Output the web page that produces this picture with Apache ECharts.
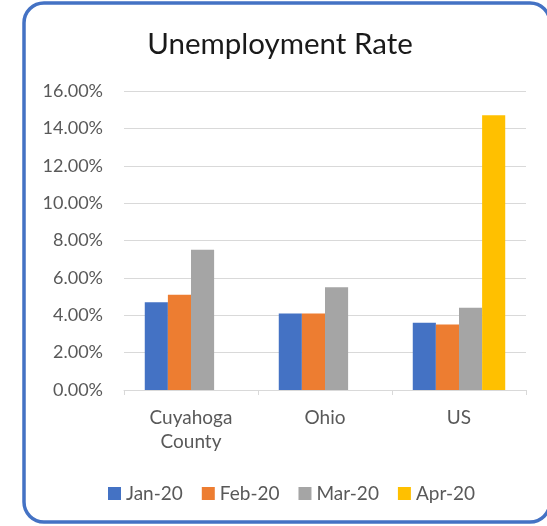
<!DOCTYPE html>
<html>
<head>
<meta charset="utf-8">
<script src="https://cdn.jsdelivr.net/npm/echarts@6/dist/echarts.min.js"></script>
<style>
html,body{margin:0;padding:0;background:#fff;}
#chart{width:547px;height:526px;}
</style>
</head>
<body>
<div id="chart"></div>
<script>
const categories = ['Cuyahoga\nCounty', 'Ohio', 'US'];
const seriesNames = ['Jan-20', 'Feb-20', 'Mar-20', 'Apr-20'];
const jan20 = [4.7, 4.1, 3.6];
const feb20 = [5.1, 4.1, 3.5];
const mar20 = [7.5, 5.5, 4.4];
const apr20 = [null, null, 14.7];
const seriesValues = [jan20, feb20, mar20, apr20];
const colors = ['#4472C4', '#ED7D31', '#A5A5A5', '#FFC000'];

const FONT = 'Lato';
const chart = echarts.init(document.getElementById('chart'), null, {renderer: 'canvas'});
chart.setOption({
  animation: false,
  color: colors,
  title: {
    text: 'Unemployment Rate',
    left: 275, top: 24, textAlign: 'center',
    textStyle: {fontFamily: FONT, fontSize: 29.5, fontWeight: 'normal', color: '#1a1a1a'}
  },
  graphic: [{
    type: 'rect',
    shape: {x: 24, y: 3, width: 526, height: 519, r: 20},
    style: {fill: 'none', stroke: '#4472C4', lineWidth: 3.5},
    z: 100
  }],
  legend: {
    data: seriesNames,
    top: 479, left: 103,
    icon: 'rect', itemWidth: 13, itemHeight: 13, itemGap: 19,
    textStyle: {fontFamily: FONT, fontSize: 19, color: '#595959', padding: [0, 0, 0, 0]}
  },
  grid: {left: 124, right: 21, top: 91, bottom: 136, containLabel: false},
  xAxis: {
    type: 'category',
    data: categories,
    axisLine: {lineStyle: {color: '#D9D9D9', width: 1}},
    axisTick: {show: true, length: 5, lineStyle: {color: '#D9D9D9'}},
    axisLabel: {fontFamily: FONT, fontSize: 19, color: '#595959', margin: 16, lineHeight: 24}
  },
  yAxis: {
    type: 'value',
    min: 0, max: 16, interval: 2,
    axisLine: {show: false},
    axisTick: {show: false},
    splitLine: {lineStyle: {color: '#D9D9D9', width: 1}},
    axisLabel: {fontFamily: FONT, fontSize: 18, color: '#595959', margin: 21,
      formatter: v => v.toFixed(2) + '%'}
  },
  series: seriesNames.map((n, i) => ({
    name: n, type: 'bar', data: seriesValues[i],
    barGap: '0%', barCategoryGap: '31%'
  }))
});
</script>
</body>
</html>
